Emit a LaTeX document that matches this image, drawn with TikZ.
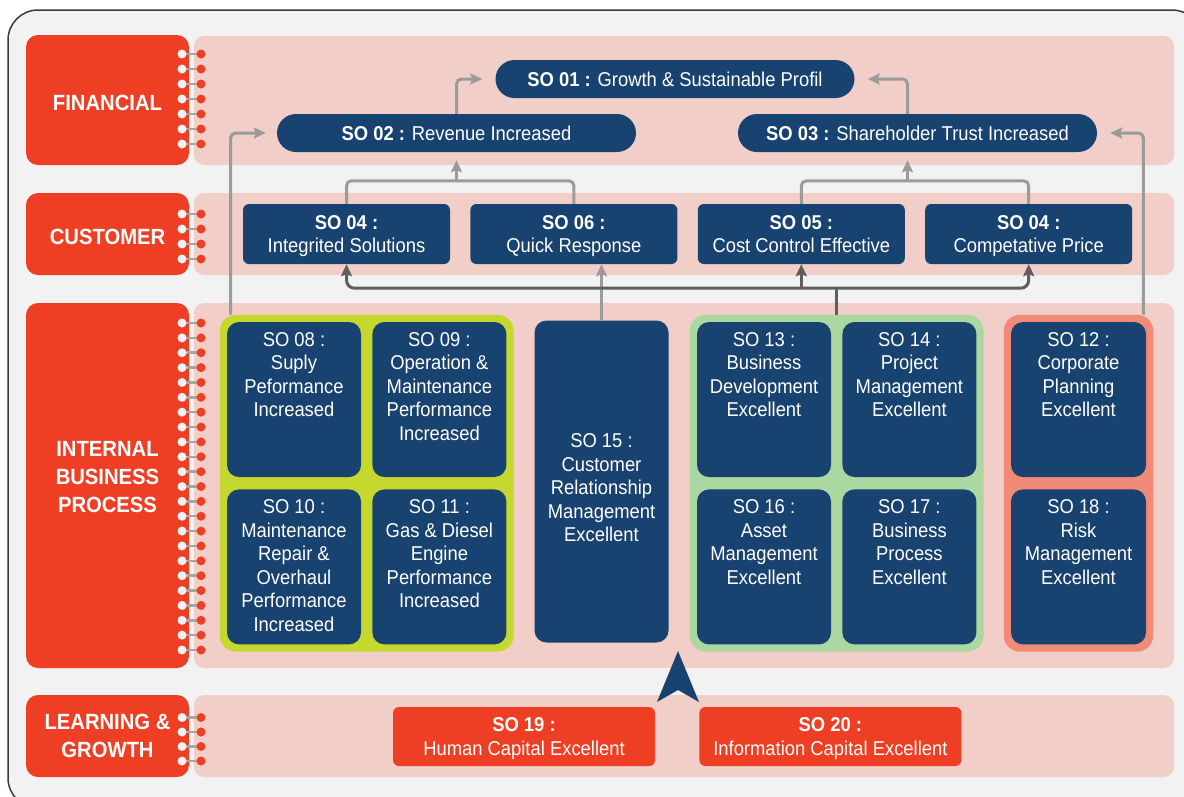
\documentclass[tikz,border=0pt]{standalone}
\usepackage{fontspec}
\setmainfont{Liberation Sans}[FakeStretch=0.92]
\usetikzlibrary{arrows.meta,positioning,calc,fit,backgrounds}
\definecolor{frameback}{HTML}{F2F2F2}
\definecolor{frameline}{HTML}{3A3A3A}
\definecolor{band}{HTML}{F1CFC8}
\definecolor{persp}{HTML}{EE3F24}
\definecolor{navy}{HTML}{18426F}
\definecolor{lime}{HTML}{C4D82E}
\definecolor{mint}{HTML}{ABD8A0}
\definecolor{salmon}{HTML}{F28A78}
\definecolor{linklt}{HTML}{9B9B9B}
\definecolor{linkdk}{HTML}{5E5E5E}
\definecolor{ringbar}{HTML}{A5A5A5}
\newcommand{\so}[1]{\textbf{SO #1 :}}

\begin{document}
\begin{tikzpicture}[x=1pt, y=-1pt,
  every node/.style={font=\fontsize{20}{23.5}\selectfont, text=white},
  sotip/.tip={Stealth[length=12pt, width=11pt, inset=2pt]},
  persp/.style={fill=persp, rounded corners=12pt, minimum width=163pt,
                align=center, font=\bfseries\fontsize{22}{28}\selectfont},
  pill/.style={fill=navy, rounded corners=19pt,
               minimum width=359pt, minimum height=38pt},
  cbox/.style={fill=navy, rounded corners=6pt, minimum width=207pt,
               minimum height=60pt, align=center, inner sep=0pt, text depth=0pt},
  ipbox/.style={fill=navy, rounded corners=12pt, minimum width=134pt,
                minimum height=155pt, inner sep=0pt},
  iptext/.style={anchor=north, yshift=-7pt, align=center},
  lgbox/.style={fill=persp, rounded corners=6pt, minimum width=262pt,
                minimum height=59pt, align=center, inner sep=0pt, text depth=0pt},
  grp/.style={rounded corners=16pt, inner sep=7pt},
  lt/.style={draw=linklt, line width=3pt, rounded corners=5pt, -sotip},
  dk/.style={draw=linkdk, line width=3pt, rounded corners=8pt}
]
  \useasboundingbox (0,0) rectangle (1184,796);

  % perspective tabs
  \node[persp, minimum height=130pt, text height=21pt] (fin) at (107.5,100) {FINANCIAL};
  \node[persp, minimum height=82pt, text height=21pt]  (cus) at (107.5,234) {CUSTOMER};
  \node[persp, minimum height=365pt, text depth=17pt] (ibp) at (107.5,485.5) {INTERNAL\\BUSINESS\\PROCESS};
  \node[persp, minimum height=82pt]  (lng) at (107.5,736) {LEARNING \&\\GROWTH};

  % financial
  \node[pill] (so01) at (675,79) {\so{01} Growth \& Sustainable Profil};
  \node[pill] (so02) at (456.5,133) {\so{02} Revenue Increased};
  \node[pill] (so03) at (917.5,133) {\so{03} Shareholder Trust Increased};

  % customer
  \node[cbox] (so04a) at (346.5,234) {\so{04}\\Integrited Solutions};
  \node[cbox, right=20pt of so04a] (so06) {\so{06}\\Quick Response};
  \node[cbox, right=20pt of so06] (so05) {\so{05}\\Cost Control Effective};
  \node[cbox, right=20pt of so05] (so04b) {\so{04}\\Competative Price};

  % internal business process
  \node[ipbox, label={[iptext]north:{SO 08 :\\Suply\\Peformance\\Increased}}] (so08) at (294,399.5) {};
  \node[ipbox, right=11pt of so08,
        label={[iptext]north:{SO 09 :\\Operation \&\\Maintenance\\Performance\\Increased}}] (so09) {};
  \node[ipbox, below=12pt of so08,
        label={[iptext]north:{SO 10 :\\Maintenance\\Repair \&\\Overhaul\\Performance\\Increased}}] (so10) {};
  \node[ipbox, right=11pt of so10,
        label={[iptext]north:{SO 11 :\\Gas \& Diesel\\Engine\\Performance\\Increased}}] (so11) {};

  \node[ipbox, minimum height=322pt,
        label={[iptext, yshift=-103pt]north:{SO 15 :\\Customer\\Relationship\\Management\\Excellent}}] (so15) at (601.5,481.5) {};

  \node[ipbox, label={[iptext]north:{SO 13 :\\Business\\Development\\Excellent}}] (so13) at (764,399.5) {};
  \node[ipbox, right=11pt of so13,
        label={[iptext]north:{SO 14 :\\Project\\Management\\Excellent}}] (so14) {};
  \node[ipbox, below=12pt of so13,
        label={[iptext]north:{SO 16 :\\Asset\\Management\\Excellent}}] (so16) {};
  \node[ipbox, right=11pt of so16,
        label={[iptext]north:{SO 17 :\\Business\\Process\\Excellent}}] (so17) {};

  \node[ipbox, minimum width=135pt,
        label={[iptext]north:{SO 12 :\\Corporate\\Planning\\Excellent}}] (so12) at (1078.5,399.5) {};
  \node[ipbox, minimum width=135pt, below=12pt of so12,
        label={[iptext]north:{SO 18 :\\Risk\\Management\\Excellent}}] (so18) {};

  % learning & growth
  \node[lgbox] (so19) at (524,736.5) {\so{19}\\Human Capital Excellent};
  \node[lgbox, right=44pt of so19] (so20) {\so{20}\\Information Capital Excellent};

  \begin{scope}[on background layer]
    \begin{scope}
      \clip (0,0) rectangle (1184,796);
      \draw[frameline, fill=frameback, line width=1.5pt, rounded corners=30pt]
        (8,10) rectangle (1202,808);
    \end{scope}
    \fill[band, rounded corners=10pt] (194,36) rectangle (1174,165);
    \fill[band, rounded corners=10pt] (194,193) rectangle (1174,275);
    \fill[band, rounded corners=10pt] (194,303) rectangle (1174,668);
    \fill[band, rounded corners=10pt] (194,695) rectangle (1174,777);
    \node[grp, fill=lime, fit=(so08)(so11)] (opsgrp) {};
    \node[grp, fill=mint, fit=(so13)(so17)] (devgrp) {};
    \node[grp, fill=salmon, fit=(so12)(so18)] (plangrp) {};
  \end{scope}

  % binding rings
  \foreach \y in {54,69,84,99,114,129,144,214,229,244,259,717.5,732,746.5,761}
    {\draw[ringbar, line width=2.5pt] (182,\y) -- (201,\y);
     \fill[frameback] (182,\y) circle (4.5pt);
     \fill[persp] (201,\y) circle (4.5pt);}
  \foreach \i in {0,...,22}
    {\draw[ringbar, line width=2.5pt] (182,{323+14.864*\i}) -- (201,{323+14.864*\i});
     \fill[frameback] (182,{323+14.864*\i}) circle (4.5pt);
     \fill[persp] (201,{323+14.864*\i}) circle (4.5pt);}

  % links into financial
  \draw[lt] (so02.north) |- ([xshift=-13pt]so01.west);
  \draw[lt] ([xshift=-10pt]so03.north) |- ([xshift=13pt]so01.east);
  \draw[lt] ([xshift=11pt]opsgrp.north west) |- ([xshift=-11pt]so02.west);
  \draw[lt] ([xshift=-10pt]plangrp.north east) |- ([xshift=13pt]so03.east);

  % customer to financial
  \coordinate (jL) at ($(so04a.north)+(0,-23)$);
  \coordinate (jR) at ($(so05.north)+(0,-23)$);
  \draw[lt, -] (so04a.north) -- (jL) -| (so06.north);
  \draw[lt, -] (so05.north) -- (jR) -| (so04b.north);
  \draw[lt] (jL -| so02.south) -- ([yshift=-8pt]so02.south);
  \draw[lt] ([xshift=-10pt]jR -| so03.south) -- ([xshift=-10pt, yshift=-8pt]so03.south);

  % internal to customer
  \draw[lt] (so15.north) -- (so15.north |- so06.south);
  \coordinate (hb) at ($(so04a.south)+(0,24)$);
  \draw[dk, sotip-sotip] (so04a.south) -- (hb) -| (so04b.south);
  \draw[dk, -sotip] (hb -| so05.south) -- (so05.south);
  \draw[dk] (devgrp.north) -- (devgrp.north |- hb);

  % learning & growth pointer
  \coordinate (lgup) at (678,651);
  \fill[navy] (lgup) -- ++(21,51) -- ++(-21,-12) -- ++(-21,12) -- cycle;
\end{tikzpicture}
\end{document}
